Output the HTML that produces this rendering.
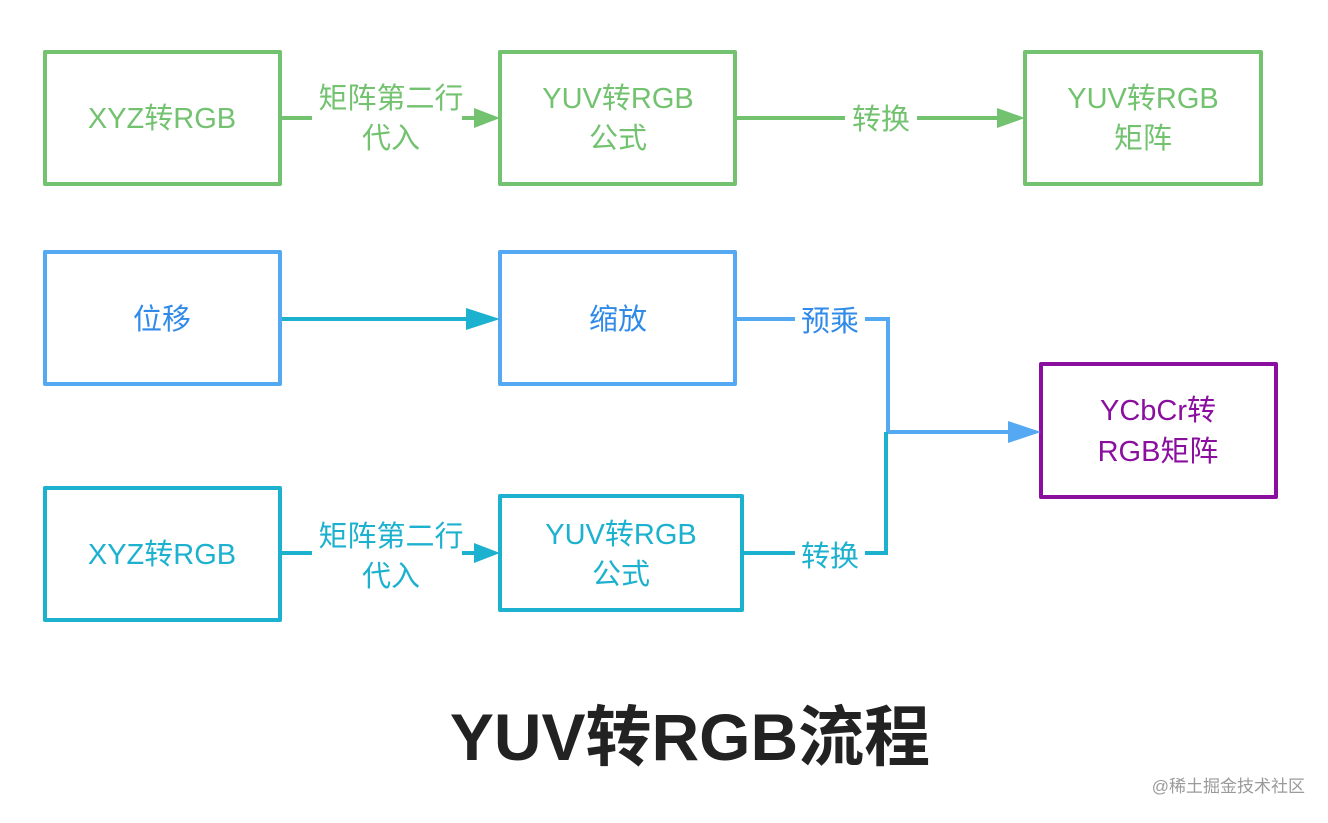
<!DOCTYPE html>
<html><head><meta charset="utf-8"><style>
body{margin:0;background:#fff;}
svg text{font-family:"Liberation Sans","Noto Sans CJK SC",sans-serif;}
</style></head><body>
<svg width="1328" height="818" viewBox="0 0 1328 818" xmlns="http://www.w3.org/2000/svg">
<rect width="1328" height="818" fill="#fff"/>
<g fill="none" stroke-width="4" stroke-linejoin="round">
<rect x="45" y="52" width="235" height="132" stroke="#72c26f"/>
<rect x="500" y="52" width="235" height="132" stroke="#72c26f"/>
<rect x="1025" y="52" width="236" height="132" stroke="#72c26f"/>
<rect x="45" y="252" width="235" height="132" stroke="#55a8f2"/>
<rect x="500" y="252" width="235" height="132" stroke="#55a8f2"/>
<rect x="45" y="488" width="235" height="132" stroke="#1cb1cf"/>
<rect x="500" y="496" width="242" height="114" stroke="#1cb1cf"/>
<rect x="1041" y="364" width="235" height="133" stroke="#8b0f9f"/>
</g>
<g stroke-width="4" fill="none">
<path d="M282 118H312M462 118H478" stroke="#72c26f"/>
<path d="M737 118H845M917 118H1000" stroke="#72c26f"/>
<path d="M282 319H470" stroke="#1cb1cf"/>
<path d="M737 319H795M865 319H888V432H1012" stroke="#55a8f2"/>
<path d="M282 553H312M462 553H476" stroke="#1cb1cf"/>
<path d="M744 553H795M865 553H886V432" stroke="#1cb1cf"/>
</g>
<g>
<polygon points="474,108 500,118 474,128" fill="#72c26f"/>
<polygon points="997,108 1025,118 997,128" fill="#72c26f"/>
<polygon points="466,308 500,319 466,330" fill="#1cb1cf"/>
<polygon points="474,543 500,553 474,563" fill="#1cb1cf"/>
<polygon points="1008,421 1041,432 1008,443" fill="#55a8f2"/>
</g>
<g font-size="29" text-anchor="middle">
<g fill="#72c26f">
<text x="162" y="128">XYZ转RGB</text>
<text x="391" y="108">矩阵第二行</text>
<text x="391" y="148">代入</text>
<text x="618" y="108">YUV转RGB</text>
<text x="618" y="148">公式</text>
<text x="881" y="129">转换</text>
<text x="1143" y="108">YUV转RGB</text>
<text x="1143" y="148">矩阵</text>
</g>
<g fill="#2f8ae8">
<text x="162" y="329">位移</text>
<text x="618" y="329">缩放</text>
<text x="830" y="331">预乘</text>
</g>
<g fill="#1cb1cf">
<text x="162" y="564">XYZ转RGB</text>
<text x="391" y="546">矩阵第二行</text>
<text x="391" y="586">代入</text>
<text x="621" y="544">YUV转RGB</text>
<text x="621" y="584">公式</text>
<text x="830" y="566">转换</text>
</g>
<g fill="#8b0f9f">
<text x="1158" y="420">YCbCr转</text>
<text x="1158" y="461">RGB矩阵</text>
</g>
</g>
<text x="690" y="760" font-size="66" font-weight="bold" fill="#222" text-anchor="middle">YUV转RGB流程</text>
<text x="1305" y="792" font-size="17" fill="#9a9a9a" text-anchor="end">@稀土掘金技术社区</text>
</svg>
</body></html>
